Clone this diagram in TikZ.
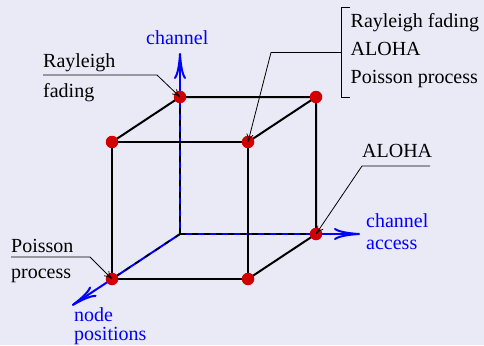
\documentclass[tikz,border=0pt]{standalone}
\usepackage{fontspec}
\setmainfont{Liberation Serif}
\usetikzlibrary{arrows.meta}
\definecolor{bgcol}{RGB}{234,234,246}
\definecolor{dotred}{RGB}{210,0,0}
\begin{document}
\begin{tikzpicture}[x=1pt,y=-1pt,
  edge/.style={line width=2pt, black, line join=round},
  hidden/.style={line width=1.6pt, black, dash pattern=on 6pt off 6pt},
  axis/.style={line width=2pt, blue, -{To[length=26pt,width=12pt]}},
  vdot/.style={circle, fill=dotred, inner sep=0pt, minimum size=12.5pt},
  lbl/.style={font=\fontsize{20}{24}\selectfont, inner sep=0pt, anchor=base west},
  note/.style={line width=0.8pt, -{To[length=8pt,width=7pt]}},
  plain/.style={line width=0.8pt},
]
\fill[bgcol] (0,0) rectangle (484,345);
\useasboundingbox (0,0) rectangle (484,345);

% cube vertices
\coordinate (O)   at (180,234);
\coordinate (BTL) at (180,97);
\coordinate (BTR) at (316,97);
\coordinate (BBR) at (316,234);
\coordinate (FTL) at (112,142);
\coordinate (FTR) at (248,142);
\coordinate (FBL) at (112,279);
\coordinate (FBR) at (248,279);

% axis ends
\coordinate (axC) at (180,53);
\coordinate (axA) at (360,234);
\coordinate (axN) at (72,305.5);

% axes
\draw[axis] (O) -- (axC);
\draw[axis] (O) -- (axA);
\draw[axis] (O) -- (axN);

% hidden edges
\draw[hidden] (O) -- (BTL);
\draw[hidden] (O) -- (BBR);
\draw[hidden] (O) -- (FBL);

% visible edges
\draw[edge] (FTL) -- (FTR) -- (FBR) -- (FBL) -- cycle;
\draw[edge] (FTL) -- (BTL) -- (BTR) -- (FTR);
\draw[edge] (BTR) -- (BBR) -- (FBR);

% dots
\node[vdot] (dBTL) at (BTL) {};
\node[vdot] (dBTR) at (BTR) {};
\node[vdot] (dFTL) at (FTL) {};
\node[vdot] (dFTR) at (FTR) {};
\node[vdot] (dBBR) at (BBR) {};
\node[vdot] (dFBL) at (FBL) {};
\node[vdot] (dFBR) at (FBR) {};

% axis labels
\node[lbl, text=blue] (lchan) at (146,45) {channel};
\node[lbl, text=blue] (lacc) at (366,227) {\begin{tabular}[t]{@{}l@{}}channel\\[-2pt]access\end{tabular}};
\node[lbl, text=blue] (lnode) at (74,321) {\begin{tabular}[t]{@{}l@{}}node\\[-4.5pt]positions\end{tabular}};

% annotation labels
\node[lbl] (lray) at (43,67.5) {\begin{tabular}[t]{@{}l@{}}Rayleigh\\[5.5pt]fading\end{tabular}};
\node[lbl] (lall) at (350.5,28) {\begin{tabular}[t]{@{}l@{}}Rayleigh fading\\[3.5pt]ALOHA\\[3.5pt]Poisson process\end{tabular}};
\node[lbl] (laloha) at (362,157) {ALOHA};
\node[lbl] (lpois) at (11,252) {\begin{tabular}[t]{@{}l@{}}Poisson\\[2pt]process\end{tabular}};

% annotation connectors
\coordinate (rayA) at (43,75);
\coordinate (rayB) at (157,75);
\draw[note] (rayA) -- (rayB) -- (dBTL.center);

\coordinate (brT1) at (350,7);
\coordinate (brT2) at (341,7);
\coordinate (brB2) at (341,97);
\coordinate (brB1) at (350,97);
\draw[plain] (brT1) -- (brT2) -- (brB2) -- (brB1);
\coordinate (brM) at (341,52.5);
\coordinate (brK) at (271,52.5);
\draw[note] (brM) -- (brK) -- (dFTR.center);

\coordinate (alA) at (430,166);
\coordinate (alB) at (362,166);
\draw[note] (alA) -- (alB) -- (dBBR.center);

\coordinate (poA) at (11,257);
\coordinate (poB) at (90,257);
\draw[note] (poA) -- (poB) -- (dFBL.center);
\end{tikzpicture}
\end{document}
